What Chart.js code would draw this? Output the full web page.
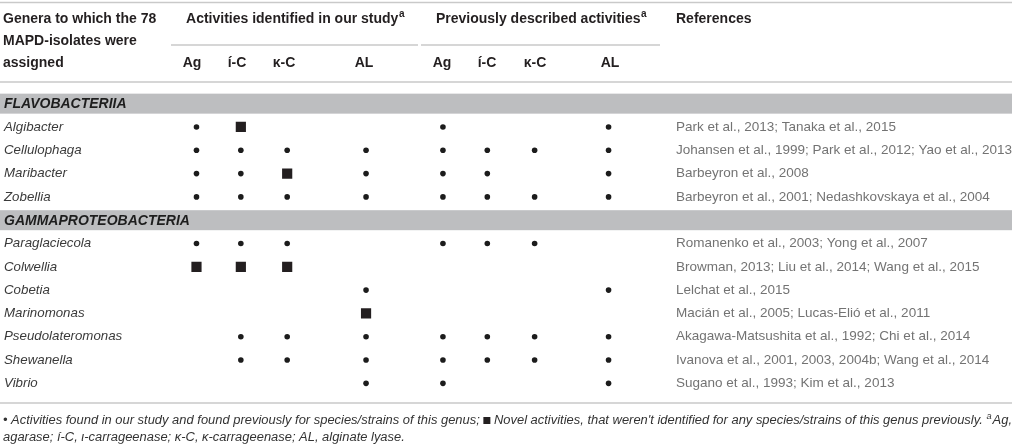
<!DOCTYPE html>
<html>
<head>
<meta charset="utf-8">
<script src="https://cdn.jsdelivr.net/npm/chart.js@4.4.0/dist/chart.umd.min.js"></script>
<style>
    html, body { margin: 0; padding: 0; background: #fff; }
    #wrap { width: 1017px; height: 445px; position: relative; }
</style>
</head>
<body>
<div id="wrap"><canvas id="tabela"></canvas></div>
<script>
// classes and genera (rows of the table)
const classes = ['FLAVOBACTERIIA', 'GAMMAPROTEOBACTERIA'];
const genera = ['Algibacter', 'Cellulophaga', 'Maribacter', 'Zobellia', 'Paraglaciecola', 'Colwellia',
    'Cobetia', 'Marinomonas', 'Pseudolateromonas', 'Shewanella', 'Vibrio'];
const genusClass = [0, 0, 0, 0, 1, 1, 1, 1, 1, 1, 1];
const activities = ['Ag', 'í-C', 'κ-C', 'AL'];

// 1 = activity found (dot), 2 = novel activity (square), 0 = nothing
const studyAg = [1, 1, 1, 1, 1, 2, 0, 0, 0, 0, 0];
const studyIC = [2, 1, 1, 1, 1, 2, 0, 0, 1, 1, 0];
const studyKC = [0, 1, 2, 1, 1, 2, 0, 0, 1, 1, 0];
const studyAL = [0, 1, 1, 1, 0, 0, 1, 2, 1, 1, 1];
const prevAg  = [1, 1, 1, 1, 1, 0, 0, 0, 1, 1, 1];
const prevIC  = [0, 1, 1, 1, 1, 0, 0, 0, 1, 1, 0];
const prevKC  = [0, 1, 0, 1, 1, 0, 0, 0, 1, 1, 0];
const prevAL  = [1, 1, 1, 1, 0, 0, 1, 0, 1, 1, 1];

const references = [
    'Park et al., 2013; Tanaka et al., 2015',
    'Johansen et al., 1999; Park et al., 2012; Yao et al., 2013',
    'Barbeyron et al., 2008',
    'Barbeyron et al., 2001; Nedashkovskaya et al., 2004',
    'Romanenko et al., 2003; Yong et al., 2007',
    'Browman, 2013; Liu et al., 2014; Wang et al., 2015',
    'Lelchat et al., 2015',
    'Macián et al., 2005; Lucas-Elió et al., 2011',
    'Akagawa-Matsushita et al., 1992; Chi et al., 2014',
    'Ivanova et al., 2001, 2003, 2004b; Wang et al., 2014',
    'Sugano et al., 1993; Kim et al., 2013'
];

document.addEventListener('DOMContentLoaded', function () {
    // rows = genera with a class band before each new class
    const rows = [];
    genera.forEach((g, i) => {
        if (i === 0 || genusClass[i] !== genusClass[i - 1]) rows.push(classes[genusClass[i]]);
        rows.push(g);
    });

    const columns = [studyAg, studyIC, studyKC, studyAL, prevAg, prevIC, prevKC, prevAL];
    // layout: centre of each activity column on the x scale
    const colX = [192, 237, 284, 364, 442, 487, 535, 610];
    const refX = 676;
    const lineRight = 1012;

    const pontos = (tipo) => {
        const out = [];
        columns.forEach((col, c) => col.forEach((v, g) => {
            if (v === tipo) out.push({ x: colX[c], y: genera[g] });
        }));
        return out;
    };

    const FONT = '"Liberation Sans", Arial, sans-serif';

    const textSup = (ctx, txt, x, y, align, size) => {
        ctx.font = 'bold ' + size + 'px ' + FONT;
        const w1 = ctx.measureText(txt).width;
        ctx.font = 'bold ' + (size - 4) + 'px ' + FONT;
        const w2 = ctx.measureText('a').width;
        let x0 = align === 'center' ? x - (w1 + w2) / 2 : x;
        ctx.textAlign = 'left';
        ctx.font = 'bold ' + size + 'px ' + FONT;
        ctx.fillText(txt, x0, y);
        ctx.font = 'bold ' + (size - 4) + 'px ' + FONT;
        ctx.fillText('a', x0 + w1 + 0.5, y - 5.5);
    };

    const tablePlugin = {
        id: 'tablePlugin',
        beforeDatasetsDraw(chart) {
            const ctx = chart.ctx;
            const ys = chart.scales.y;
            ctx.save();
            // rules
            ctx.strokeStyle = '#c9c9c9';
            ctx.lineWidth = 1.5;
            const hline = (x1, x2, y) => {
                ctx.beginPath(); ctx.moveTo(x1, y); ctx.lineTo(x2, y); ctx.stroke();
            };
            hline(0, lineRight, 2.5);
            hline(171, 418, 45);
            hline(421, 660, 45);
            hline(0, lineRight, 82);
            hline(0, lineRight, 403);

            // class bands
            ctx.textBaseline = 'middle';
            classes.forEach(cl => {
                const yc = ys.getPixelForValue(rows.indexOf(cl));
                ctx.fillStyle = '#bdbec0';
                ctx.fillRect(0, yc - 10, lineRight, 20);
                ctx.fillStyle = '#1e1e1e';
                ctx.font = 'italic bold 14px ' + FONT;
                ctx.textAlign = 'left';
                ctx.fillText(cl, 4, yc + 0.5);
            });

            // header
            ctx.fillStyle = '#231f20';
            ctx.font = 'bold 14px ' + FONT;
            ctx.textAlign = 'left';
            ctx.fillText('Genera to which the 78', 3, 19.5);
            ctx.fillText('MAPD-isolates were', 3, 41.5);
            ctx.fillText('assigned', 3, 63);
            ctx.fillText('References', refX, 19.5);
            textSup(ctx, 'Activities identified in our study', 295, 19.5, 'center', 14);
            textSup(ctx, 'Previously described activities', 541, 19.5, 'center', 14);
            ctx.font = 'bold 14px ' + FONT;
            ctx.textAlign = 'center';
            colX.forEach((x, c) => ctx.fillText(activities[c % 4], x, 63));

            // genera and references
            genera.forEach((g, i) => {
                const yc = ys.getPixelForValue(rows.indexOf(g));
                ctx.textAlign = 'left';
                ctx.fillStyle = '#3a3a3a';
                ctx.font = 'italic 13.3px ' + FONT;
                ctx.fillText(g, 4, yc);
                ctx.fillStyle = '#737373';
                ctx.font = '13.5px ' + FONT;
                ctx.fillText(references[i], refX, yc);
            });

            // footnote, condensed to the table width
            ctx.fillStyle = '#333';
            const fs = 12.5;
            const f1a = '• Activities found in our study and found previously for species/strains of this genus; ';
            const f1b = ' Novel activities, that weren\'t identified for any species/strains of this genus previously. ';
            const f1c = 'Ag,';
            const f2 = 'agarase; í-C, ι-carrageenase; κ-C, κ-carrageenase; AL, alginate lyase.';
            const sq = 7;
            ctx.font = 'italic ' + fs + 'px ' + FONT;
            const wa = ctx.measureText(f1a).width;
            const wb = ctx.measureText(f1b).width;
            const wc = ctx.measureText(f1c).width;
            ctx.font = 'italic 9px ' + FONT;
            const ws = ctx.measureText('a').width;
            // solve for horizontal condensing so line 1 fills the table width
            const k = (lineRight - 3 - sq) / (wa + wb + ws + 1 + wc);
            ctx.textAlign = 'left';
            ctx.save();
            ctx.translate(3, 421);
            ctx.scale(k, 1);
            ctx.font = 'italic ' + fs + 'px ' + FONT;
            ctx.fillText(f1a, 0, 0);
            ctx.fillStyle = '#231f20';
            ctx.fillRect(wa, -sq / 2 - 0.5, sq / k, sq);
            ctx.fillStyle = '#333';
            let xx = wa + sq / k;
            ctx.fillText(f1b, xx, 0);
            xx += wb;
            ctx.font = 'italic 9px ' + FONT;
            ctx.fillText('a', xx, -4.5);
            xx += ws + 1;
            ctx.font = 'italic ' + fs + 'px ' + FONT;
            ctx.fillText(f1c, xx, 0);
            ctx.restore();
            ctx.save();
            ctx.translate(3, 438);
            ctx.scale(k, 1);
            ctx.font = 'italic ' + fs + 'px ' + FONT;
            ctx.fillText(f2, 0, 0);
            ctx.restore();

            ctx.restore();
        }
    };

    const ctx = document.getElementById('tabela').getContext('2d');
    new Chart(ctx, {
        type: 'scatter',
        data: {
            datasets: [{
                label: 'found',
                data: pontos(1),
                pointStyle: 'circle',
                pointRadius: 2.8,
                backgroundColor: '#1c1c1c',
                borderWidth: 0
            }, {
                label: 'novel',
                data: pontos(2),
                pointStyle: 'rect',
                pointRadius: 7.2,
                backgroundColor: '#231f20',
                borderWidth: 0
            }]
        },
        options: {
            responsive: true,
            maintainAspectRatio: false,
            animation: false,
            events: [],
            layout: { padding: { top: 92, bottom: 50, left: 0, right: 0 } },
            plugins: {
                legend: { display: false },
                tooltip: { enabled: false }
            },
            scales: {
                x: { type: 'linear', min: 0, max: 1017, display: false },
                y: { type: 'category', labels: rows, offset: true, display: false }
            }
        },
        plugins: [tablePlugin]
    });
});
</script>
</body>
</html>
